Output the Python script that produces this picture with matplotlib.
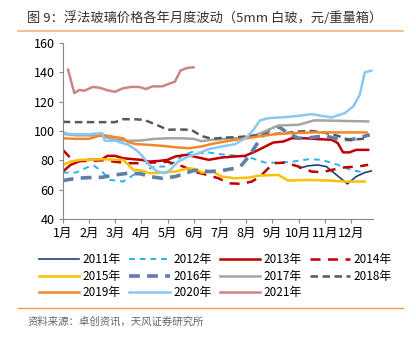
import numpy as np
import matplotlib.pyplot as plt

plt.rcParams['font.family'] = ['Noto Sans CJK SC', 'DejaVu Sans']

# 各年份月度价格（横轴为月份，可带小数）
m2011 = [10.05, 10.36, 10.74, 11.06, 11.45, 11.87, 12.2, 12.53, 12.78]
p2011 = [74.6, 76.2, 76.8, 75.7, 70.0, 63.9, 68.9, 71.6, 72.7]

m2012 = [1.0, 1.5, 2.0, 2.2, 2.5, 2.8, 3.0, 3.3, 3.7, 4.0, 4.5, 4.9, 5.3, 5.6, 6.0, 6.3,
         6.57, 7.2, 7.84, 8.22, 8.73, 9.23, 9.74, 10.38, 10.88, 11.5, 12.0, 12.53]
p2012 = [71.6, 71.6, 75.7, 76.2, 72.3, 66.6, 66.2, 65.5, 70.0, 72.3, 75.7, 75.7, 79.0, 83.7, 86.0, 84.8,
         85.3, 83.7, 83.0, 81.4, 78.4, 78.4, 79.0, 80.7, 80.3, 76.9, 73.4, 71.6]

m2013 = [1.0, 1.3, 1.7, 2.0, 2.5, 2.7, 3.0, 3.3, 3.7, 4.0, 4.3, 4.7, 5.0, 5.3, 5.7, 6.0, 6.3,
         6.57, 7.08, 7.58, 7.96, 8.35, 8.73, 9.04, 9.42, 9.74, 10.25, 10.76, 11.26, 11.5, 11.7,
         11.95, 12.2, 12.66]
p2013 = [72.3, 76.9, 79.8, 80.3, 80.7, 83.0, 83.0, 81.4, 80.7, 80.3, 79.1, 79.6, 80.3, 82.6, 83.7, 82.6, 81.4,
         80.3, 81.9, 82.6, 83.0, 86.0, 89.4, 92.1, 92.8, 95.0, 95.0, 94.4, 94.0, 91.7, 85.4,
         85.4, 87.1, 87.1]

m2014 = [1.0, 1.3, 1.6, 2.0, 2.5, 3.0, 3.5, 4.0, 4.5, 5.0, 5.6, 6.0, 6.3,
         6.95, 7.33, 7.84, 8.22, 8.53, 8.85, 9.04, 9.5, 10.0, 10.5, 10.88, 11.26, 11.77, 12.28, 12.66]
p2014 = [87.1, 81.4, 79.5, 79.5, 80.0, 79.0, 78.0, 78.0, 78.5, 79.0, 75.7, 72.3, 71.0,
         67.7, 64.3, 63.9, 65.5, 68.9, 74.6, 78.0, 78.4, 75.7, 72.3, 71.8, 73.4, 75.2, 75.7, 76.9]

m2015 = [1.0, 1.3, 1.7, 2.0, 2.5, 3.0, 3.3, 3.5, 3.7, 4.0, 4.3, 4.8, 5.3, 5.8, 6.1, 6.3,
         6.7, 7.08, 7.58, 8.1, 8.47, 9.23, 9.6, 10.38, 11.14, 11.77, 12.53]
p2015 = [76.9, 79.1, 80.3, 80.3, 80.7, 80.3, 80.3, 76.9, 73.4, 73.0, 71.2, 71.6, 72.3, 74.6, 73.9, 71.6,
         72.3, 68.9, 67.7, 68.2, 69.5, 70.0, 66.2, 66.6, 66.2, 65.5, 65.5]

m2016 = [1.0, 1.5, 2.0, 2.5, 3.0, 3.5, 4.0, 4.3, 4.8, 5.3, 5.6, 6.0, 6.3,
         6.57, 7.08, 7.58, 7.84, 8.1, 8.35, 8.6, 8.9, 9.23, 9.6, 10.0, 10.5, 11.0, 11.5, 12.0, 12.4, 12.72]
p2016 = [66.2, 67.7, 68.2, 68.4, 70.0, 71.2, 70.7, 68.9, 67.7, 68.9, 70.7, 73.0, 73.0,
         72.3, 73.0, 74.6, 76.9, 82.6, 89.4, 96.2, 100.8, 103.0, 98.5, 95.0, 95.5, 96.7, 94.4, 94.0, 95.8, 97.4]

m2017 = [1.0, 1.5, 2.0, 2.5, 3.0, 3.5, 4.0, 4.5, 5.0, 5.5, 6.0, 6.3,
         6.7, 7.46, 7.9, 8.4, 8.85, 9.23, 10.0, 10.6, 11.3, 12.0, 12.66]
p2017 = [98.0, 97.0, 97.0, 96.5, 94.0, 93.3, 93.5, 94.6, 95.0, 95.0, 94.6, 93.0,
         94.0, 95.0, 95.0, 97.4, 100.8, 103.7, 104.2, 107.2, 107.0, 106.7, 106.5]

m2018 = [1.0, 1.5, 2.0, 2.5, 3.0, 3.3, 3.7, 4.1, 4.6, 5.0, 5.4, 5.9, 6.3,
         6.7, 7.2, 7.7, 8.2, 8.85, 9.5, 10.0, 10.5, 10.95, 11.5, 11.9, 12.3, 12.6]
p2018 = [106.2, 106.0, 106.0, 106.0, 106.0, 108.0, 108.0, 107.6, 104.0, 100.8, 101.0, 100.8, 96.5,
         94.6, 95.5, 95.8, 96.7, 97.6, 98.5, 99.6, 100.0, 99.0, 96.7, 94.0, 94.4, 95.0]

m2019 = [1.0, 1.5, 2.0, 2.3, 2.5, 3.0, 3.3, 3.5, 3.8, 4.3, 4.8, 5.3, 5.8, 6.3,
         6.7, 7.2, 7.84, 8.47, 9.1, 9.74, 10.6, 11.5, 12.6]
p2019 = [95.0, 94.6, 94.6, 96.2, 97.4, 95.8, 95.0, 92.3, 91.0, 90.5, 89.8, 88.9, 88.2, 89.4,
         91.2, 92.8, 94.6, 96.2, 97.8, 98.5, 99.0, 99.0, 99.0]

m2020 = [1.0, 1.3, 2.0, 2.5, 2.6, 3.0, 3.5, 3.8, 4.0, 4.3, 4.6, 4.9, 5.1, 5.4, 5.8, 6.2,
         6.57, 7.08, 7.58, 8.03, 8.28, 8.53, 8.85, 9.5, 10.0, 10.5, 10.88, 11.26, 11.77, 12.09,
         12.34, 12.53, 12.78]
p2020 = [99.0, 97.8, 97.8, 98.5, 93.3, 93.3, 90.5, 87.0, 83.7, 76.9, 72.3, 71.2, 73.4, 79.0, 82.6, 84.8,
         87.6, 89.4, 91.0, 95.8, 100.8, 107.2, 108.7, 109.4, 110.3, 111.5, 110.3, 109.2, 112.2, 116.7,
         124.7, 140.0, 141.1]

m2021 = [1.2, 1.44, 1.63, 1.82, 2.14, 2.4, 2.71, 3.0, 3.28, 3.6, 3.92, 4.17, 4.43, 4.8, 5.06,
         5.28, 5.5, 5.76, 5.99]
p2021 = [141.8, 125.8, 128.0, 127.4, 130.0, 129.5, 127.7, 126.7, 129.0, 130.0, 130.0, 128.6, 130.4, 130.4, 132.2,
         133.6, 141.3, 143.0, 143.4]

months = list(range(1, 13))
month_labels = [f'{i}月' for i in months]

fig = plt.figure(figsize=(4.16, 3.41), dpi=100)
ax = fig.add_axes([0.151, 0.358, 0.746, 0.516])

lines = {}
lines['2011'], = ax.plot(m2011, p2011, color='#1f3f7a', lw=1.2)
lines['2012'], = ax.plot(m2012, p2012, color='#2bb3ea', lw=1.4, dashes=(3, 2.5))
lines['2013'], = ax.plot(m2013, p2013, color='#c00000', lw=1.8)
lines['2014'], = ax.plot(m2014, p2014, color='#c00000', lw=1.8, dashes=(4, 3))
lines['2015'], = ax.plot(m2015, p2015, color='#ffc000', lw=1.8)
lines['2016'], = ax.plot(m2016, p2016, color='#5f7fa8', lw=2.6, dashes=(3, 2))
lines['2017'], = ax.plot(m2017, p2017, color='#a5a5a5', lw=1.8)
lines['2018'], = ax.plot(m2018, p2018, color='#595959', lw=1.8, dashes=(3, 1.8))
lines['2019'], = ax.plot(m2019, p2019, color='#f5862a', lw=1.8)
lines['2020'], = ax.plot(m2020, p2020, color='#8cc7f0', lw=1.8)
lines['2021'], = ax.plot(m2021, p2021, color='#cc8585', lw=1.8)

ax.set_xlim(1, 12.85)
ax.set_ylim(40, 160)
ax.set_yticks(range(40, 161, 20))
ax.set_xticks(months)
ax.set_xticklabels(month_labels)
ax.tick_params(labelsize=9, color='#888888', length=3, pad=3)
for s in ['top', 'right']:
    ax.spines[s].set_visible(False)
for s in ['left', 'bottom']:
    ax.spines[s].set_color('#888888')
    ax.spines[s].set_linewidth(0.8)

# 图例按行排列：matplotlib按列填充，所以重新排序
order = ['2011', '2015', '2019', '2012', '2016', '2020', '2013', '2017', '2021', '2014', '2018']
fig.legend([lines[k] for k in order], [k + '年' for k in order],
           ncol=4, loc='upper left', bbox_to_anchor=(0.08, 0.275),
           frameon=False, fontsize=8.5, handlelength=3.4, handletextpad=0.3,
           columnspacing=0.7, labelspacing=0.3, borderpad=0)

fig.text(0.065, 0.948, '图 9：浮法玻璃价格各年月度波动（5mm 白玻，元/重量箱）',
         fontsize=9.5, color='#333333', va='center')
fig.add_artist(plt.Line2D([0.043, 0.969], [0.909, 0.909], color='#f6b27a', lw=1.2))
fig.add_artist(plt.Line2D([0.043, 0.969], [0.097, 0.097], color='#f59a45', lw=1.0))
fig.text(0.065, 0.058, '资料来源：卓创资讯，天风证券研究所', fontsize=7.5, color='#666666', va='center')

fig.savefig('out.png', dpi=100)
